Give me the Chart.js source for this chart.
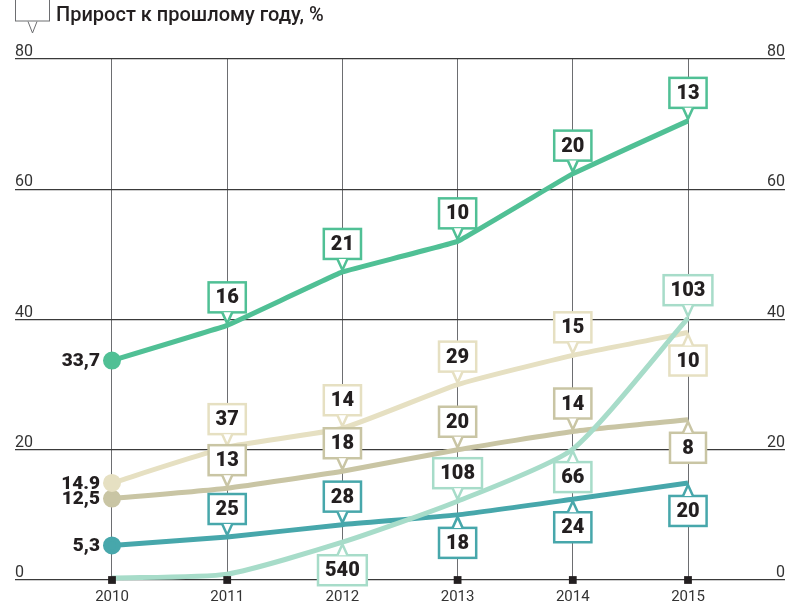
<!DOCTYPE html>
<html>
<head>
<meta charset="utf-8">
<script src="https://cdn.jsdelivr.net/npm/chart.js@4.4.1/dist/chart.umd.min.js"></script>
<style>
  html, body { margin: 0; padding: 0; background: #fff; }
  canvas { display: block; }
</style>
</head>
<body>
<canvas id="chart" width="803" height="604"></canvas>
<script>
const years = [2010, 2011, 2012, 2013, 2014, 2015];
const yTicks = [0, 20, 40, 60, 80];

const greenValues = [33.7, 39.1, 47.3, 52.0, 62.4, 70.5];
const beigeValues = [14.9, 20.4, 23.3, 30.0, 34.5, 38.0];
const khakiValues = [12.5, 14.1, 16.7, 20.0, 22.8, 24.6];
const tealValues = [5.3, 6.6, 8.5, 10.0, 12.4, 14.9];
const mintValues = [0.3, 0.9, 5.8, 12.1, 20.1, 40.2];

// growth vs previous year, %
const greenGrowth = [null, '16', '21', '10', '20', '13'];
const beigeGrowth = [null, '37', '14', '29', '15', '10'];
const khakiGrowth = [null, '13', '18', '20', '14', '8'];
const tealGrowth = [null, '25', '28', '18', '24', '20'];
const mintGrowth = [null, null, '540', '108', '66', '103'];

// which side of the point each growth tag sits on
const greenSide = ['up', 'up', 'up', 'up', 'up', 'up'];
const beigeSide = ['up', 'up', 'up', 'up', 'up', 'down'];
const khakiSide = ['up', 'up', 'up', 'up', 'up', 'down'];
const tealSide = ['up', 'up', 'up', 'down', 'down', 'down'];
const mintSide = ['up', 'up', 'down', 'up', 'down', 'up'];

const legendText = 'Прирост к прошлому году, %';

const toPoints = (vals) => vals.map((v, i) => ({ x: years[i], y: v }));

function series(values, color, growth, sides, startLabel, tension) {
  return {
    data: toPoints(values),
    borderColor: color,
    backgroundColor: color,
    borderWidth: 5,
    tension,
    clip: false,
    pointRadius: (c) => (startLabel && c.dataIndex === 0 ? 6.5 : 0),
    pointHoverRadius: 0,
    growth,
    sides,
    startLabel,
  };
}

function drawTag(ctx, x, y, text, color, side) {
  ctx.save();
  ctx.font = '900 20px Roboto';
  const w = Math.max(36, ctx.measureText(text).width + 14);
  const h = 30;
  const gap = 13;
  const dir = side === 'down' ? 1 : -1;
  const edge = y + dir * gap;
  const top = dir < 0 ? edge - h : edge;
  ctx.lineWidth = 2.5;
  ctx.strokeStyle = color;
  ctx.fillStyle = '#fff';
  ctx.fillRect(x - w / 2, top, w, h);
  ctx.strokeRect(x - w / 2, top, w, h);
  ctx.beginPath();
  ctx.moveTo(x - 5, edge);
  ctx.lineTo(x, y + dir * 2);
  ctx.lineTo(x + 5, edge);
  ctx.closePath();
  ctx.fill();
  ctx.beginPath();
  ctx.moveTo(x - 5, edge);
  ctx.lineTo(x, y + dir * 2);
  ctx.lineTo(x + 5, edge);
  ctx.stroke();
  ctx.fillStyle = '#231f20';
  ctx.textAlign = 'center';
  ctx.textBaseline = 'middle';
  ctx.fillText(text, x, top + h / 2 + 1);
  ctx.restore();
}

const tagsPlugin = {
  id: 'growthTags',
  afterDatasetsDraw(chart) {
    const ctx = chart.ctx;
    chart.data.datasets.forEach((ds, di) => {
      if (!ds.growth) return;
      const meta = chart.getDatasetMeta(di);
      meta.data.forEach((pt, i) => {
        if (ds.growth[i]) drawTag(ctx, pt.x, pt.y, ds.growth[i], ds.borderColor, ds.sides[i]);
      });
      if (ds.startLabel) {
        const p = meta.data[0];
        ctx.save();
        ctx.font = '900 19px Roboto';
        ctx.fillStyle = '#231f20';
        ctx.textAlign = 'right';
        ctx.textBaseline = 'middle';
        ctx.fillText(ds.startLabel, p.x - 12, p.y + 1);
        ctx.restore();
      }
    });
  },
  afterDraw(chart) {
    const ctx = chart.ctx;
    ctx.save();
    ctx.strokeStyle = '#6d6e71';
    ctx.lineWidth = 1;
    ctx.fillStyle = '#fff';
    ctx.strokeRect(15.5, -2, 34, 23);
    ctx.beginPath();
    ctx.moveTo(28, 21.5);
    ctx.lineTo(32.5, 33);
    ctx.lineTo(37, 21.5);
    ctx.stroke();
    ctx.font = '500 20px Roboto';
    ctx.fillStyle = '#231f20';
    ctx.textAlign = 'left';
    ctx.textBaseline = 'middle';
    ctx.fillText(legendText, 56, 16);
    ctx.restore();
  },
};

const yTickOpts = {
  mirror: true,
  padding: 0,
  labelOffset: -7,
  color: '#333',
  font: { family: 'Roboto', size: 16 },
};

// eslint-disable-next-line no-undef
new Chart(document.getElementById('chart'), {
  type: 'line',
  data: {
    datasets: [
      {
        data: years.map((y) => ({ x: y, y: 0 })),
        showLine: false,
        pointStyle: 'rect',
        pointRadius: 5.5,
        backgroundColor: '#231f20',
        borderWidth: 0,
        clip: false,
      },
      series(mintValues, '#a7dcc9', mintGrowth, mintSide, null, 0.2),
      series(greenValues, '#50c095', greenGrowth, greenSide, '33,7', 0.05),
      series(beigeValues, '#e6e0c2', beigeGrowth, beigeSide, '14.9', 0.15),
      series(khakiValues, '#c9c5a4', khakiGrowth, khakiSide, '12,5', 0.15),
      series(tealValues, '#47a7ab', tealGrowth, tealSide, '5,3', 0.15),
    ],
  },
  options: {
    responsive: false,
    animation: false,
    layout: { padding: { left: 15, right: 18, top: 59, bottom: 0 } },
    plugins: { legend: { display: false }, tooltip: { enabled: false } },
    scales: {
      x: {
        type: 'linear',
        min: 2009.158,
        max: 2015.842,
        afterBuildTicks: (s) => { s.ticks = years.map((v) => ({ value: v })); },
        afterFit: (s) => { s.height = 24; },
        grid: { color: '#6d6e71', lineWidth: 1, drawTicks: false },
        border: { display: false },
        ticks: {
          padding: 8,
          color: '#333',
          font: { family: 'Roboto', size: 15 },
          callback: (v) => String(v),
        },
      },
      y: {
        position: 'left',
        min: 0,
        max: 80,
        afterBuildTicks: (s) => { s.ticks = yTicks.map((v) => ({ value: v })); },
        afterFit: (s) => { s.width = 0; },
        grid: { color: '#3a3a3a', lineWidth: 1.2, drawTicks: false },
        border: { display: false },
        ticks: yTickOpts,
      },
      y2: {
        position: 'right',
        min: 0,
        max: 80,
        afterBuildTicks: (s) => { s.ticks = yTicks.map((v) => ({ value: v })); },
        afterFit: (s) => { s.width = 0; },
        grid: { display: false },
        border: { display: false },
        ticks: yTickOpts,
      },
    },
  },
  plugins: [tagsPlugin],
});
</script>
</body>
</html>
